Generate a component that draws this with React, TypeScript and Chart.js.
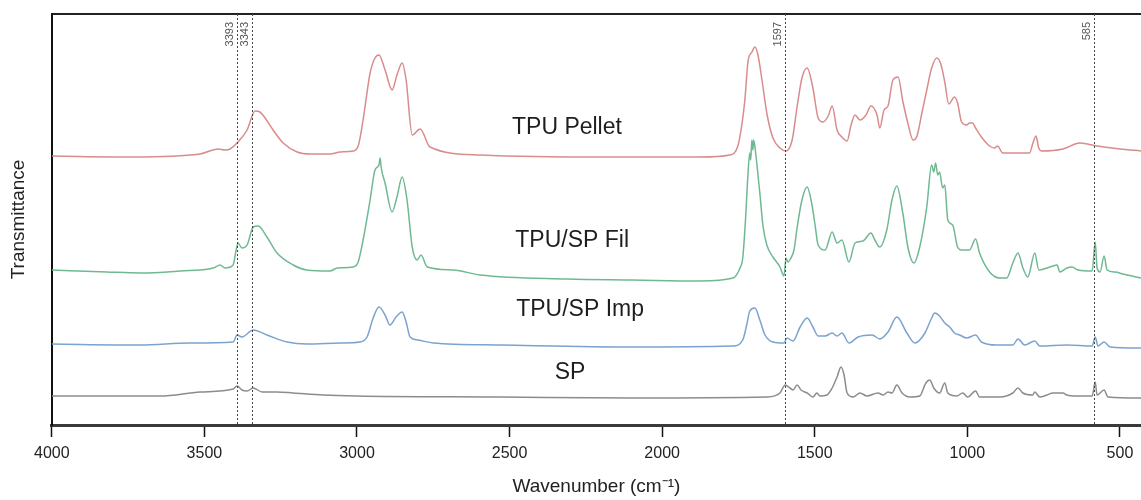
import React, { useEffect, useRef } from "react";
import { Chart, registerables } from "chart.js";

Chart.register(...registerables);

// FTIR spectra, stacked with vertical offsets: [wavenumber (cm-1), offset transmittance]
const tpuPellet: [number, number][] = [
  [4000, 269], [3734, 268], [3514, 271], [3455, 276], [3432, 275], [3416, 276], [3393, 282],
  [3360, 295], [3334, 314], [3318, 313], [3301, 307], [3275, 295], [3242, 282], [3196, 273],
  [3154, 271], [3088, 271], [3055, 273], [3013, 274], [2996, 279], [2980, 305], [2957, 352],
  [2941, 367], [2928, 370], [2908, 355], [2885, 335], [2869, 350], [2852, 362], [2839, 345],
  [2819, 290], [2793, 296], [2761, 278], [2597, 270], [2203, 268], [1876, 268], [1778, 270],
  [1752, 279], [1739, 300], [1729, 325], [1719, 363], [1706, 373], [1696, 378], [1686, 370],
  [1673, 345], [1656, 310], [1637, 287], [1614, 277], [1594, 274], [1574, 285], [1558, 318],
  [1542, 347], [1525, 357], [1506, 337], [1489, 307], [1473, 303], [1456, 309], [1443, 319],
  [1427, 295], [1411, 288], [1394, 284], [1381, 300], [1368, 310], [1352, 305], [1332, 310],
  [1316, 319], [1296, 310], [1287, 297], [1273, 315], [1260, 319], [1244, 345], [1227, 348],
  [1211, 323], [1195, 302], [1178, 285], [1165, 289], [1149, 312], [1133, 335], [1117, 357],
  [1100, 367], [1087, 361], [1074, 343], [1061, 321], [1042, 328], [1032, 322], [1019, 303],
  [1002, 300], [993, 302], [983, 302], [973, 297], [954, 288], [927, 279], [911, 277],
  [901, 279], [884, 272], [796, 272], [786, 281], [775, 289], [766, 277], [756, 274],
  [687, 276], [631, 282], [575, 279], [500, 276], [431, 274],
];

const tpuSpFil: [number, number][] = [
  [4000, 155], [3819, 153], [3710, 152], [3580, 154], [3471, 157], [3449, 160], [3432, 157],
  [3406, 160], [3396, 175], [3390, 182], [3377, 177], [3360, 180], [3340, 198], [3324, 199],
  [3295, 188], [3262, 172], [3209, 160], [3164, 155], [3088, 154], [3065, 157], [3013, 158],
  [2996, 163], [2980, 185], [2957, 225], [2941, 255], [2928, 260], [2924, 267], [2921, 258],
  [2908, 242], [2885, 213], [2869, 228], [2852, 248], [2836, 225], [2819, 178], [2803, 165],
  [2790, 170], [2770, 158], [2685, 155], [2597, 150], [2312, 146], [2096, 145], [1876, 144],
  [1768, 147], [1745, 157], [1736, 167], [1726, 210], [1719, 250], [1713, 272], [1710, 265],
  [1706, 285], [1703, 275], [1700, 285], [1693, 270], [1686, 250], [1680, 232], [1670, 200],
  [1657, 180], [1637, 168], [1614, 158], [1601, 149], [1594, 167], [1588, 163], [1578, 167],
  [1568, 175], [1558, 197], [1542, 225], [1525, 238], [1509, 220], [1499, 200], [1489, 180],
  [1466, 175], [1443, 193], [1427, 182], [1411, 185], [1388, 163], [1368, 182], [1342, 184],
  [1316, 192], [1303, 185], [1287, 178], [1264, 195], [1247, 225], [1231, 239], [1211, 211],
  [1195, 178], [1175, 162], [1156, 178], [1133, 218], [1117, 260], [1110, 253], [1104, 262],
  [1097, 250], [1091, 253], [1081, 237], [1074, 240], [1064, 205], [1048, 200], [1032, 178],
  [1019, 175], [993, 175], [973, 186], [960, 172], [927, 153], [894, 147], [871, 147],
  [851, 162], [834, 172], [818, 157], [802, 148], [779, 172], [766, 155], [739, 157],
  [706, 160], [697, 153], [674, 157], [657, 158], [637, 155], [591, 154], [581, 183],
  [575, 157], [565, 153], [552, 169], [542, 155], [516, 153], [490, 151], [431, 147],
];

const tpuSpImp: [number, number][] = [
  [4000, 81], [3710, 80], [3547, 82], [3406, 83], [3393, 90], [3377, 88], [3340, 95],
  [3295, 90], [3229, 83], [3164, 81], [3055, 82], [2990, 83], [2967, 88], [2947, 107],
  [2928, 118], [2908, 110], [2892, 100], [2872, 108], [2852, 113], [2839, 103], [2826, 88],
  [2800, 85], [2750, 82], [2531, 80], [2096, 78], [1768, 79], [1736, 85], [1723, 100],
  [1713, 114], [1696, 117], [1680, 105], [1663, 90], [1637, 83], [1601, 82], [1591, 87],
  [1571, 84], [1548, 98], [1525, 107], [1506, 98], [1489, 89], [1466, 89], [1443, 92],
  [1427, 89], [1411, 92], [1388, 82], [1358, 88], [1312, 90], [1287, 86], [1260, 93],
  [1231, 108], [1198, 92], [1172, 82], [1139, 92], [1117, 107], [1107, 112], [1091, 109],
  [1074, 102], [1058, 98], [1042, 92], [1025, 90], [1002, 87], [973, 90], [954, 83],
  [904, 80], [851, 80], [834, 86], [812, 80], [779, 84], [763, 79], [674, 80], [591, 79],
  [581, 88], [572, 79], [552, 83], [532, 78], [431, 77],
];

const sp: [number, number][] = [
  [4000, 29], [3645, 29], [3514, 33], [3406, 36], [3393, 39], [3377, 35], [3360, 34],
  [3340, 37], [3311, 33], [3262, 33], [3209, 32], [3111, 30], [3000, 29], [2531, 28],
  [2096, 27], [1657, 28], [1614, 32], [1597, 40], [1581, 37], [1571, 35], [1558, 40],
  [1545, 35], [1525, 32], [1506, 28], [1493, 32], [1483, 29], [1460, 30], [1443, 37],
  [1427, 48], [1414, 58], [1404, 50], [1394, 32], [1374, 28], [1352, 32], [1329, 29],
  [1293, 32], [1276, 30], [1260, 33], [1247, 32], [1231, 40], [1214, 32], [1188, 28],
  [1156, 29], [1136, 42], [1123, 45], [1110, 37], [1091, 32], [1074, 42], [1064, 32],
  [1035, 29], [1015, 32], [999, 28], [973, 34], [960, 28], [894, 28], [851, 32], [834, 37],
  [818, 32], [786, 30], [779, 33], [763, 28], [739, 30], [720, 32], [687, 32], [674, 30],
  [641, 29], [591, 29], [581, 43], [575, 30], [552, 35], [539, 28], [431, 27],
];

const seriesNames = ["TPU Pellet", "TPU/SP Fil", "TPU/SP Imp", "SP"];
const seriesColors = ["#D88C8C", "#6EB991", "#7BA3CF", "#8C8C8C"];
// where each spectrum's name is written: [wavenumber, offset transmittance]
const seriesLabelAt: [number, number][] = [[2312, 297], [2295, 184], [2269, 115], [2302, 52]];

// marked band positions (cm-1)
const markedBands = [3393, 3343, 1597, 585];

const xTickValues = [4000, 3500, 3000, 2500, 2000, 1500, 1000, 500];
const xMin = 431;
const xMax = 4000;

const FONT = "'Liberation Sans', Arial, sans-serif";

const annotations = {
  id: "spectrumAnnotations",
  afterDatasetsDraw(chart: any) {
    const { ctx, chartArea, scales } = chart;
    const xs = scales.x;
    const ys = scales.y;
    ctx.save();
    // dotted band markers with rotated labels
    ctx.strokeStyle = "#444";
    ctx.lineWidth = 1;
    ctx.setLineDash([2, 2]);
    markedBands.forEach((b) => {
      const px = Math.round(xs.getPixelForValue(b)) + 0.5;
      ctx.beginPath();
      ctx.moveTo(px, chartArea.top);
      ctx.lineTo(px, chartArea.bottom);
      ctx.stroke();
    });
    ctx.setLineDash([]);
    ctx.fillStyle = "#555";
    ctx.font = `11px ${FONT}`;
    ctx.textAlign = "right";
    ctx.textBaseline = "middle";
    markedBands.forEach((b) => {
      const px = xs.getPixelForValue(b);
      ctx.save();
      ctx.translate(px - 7, chartArea.top + 8);
      ctx.rotate(-Math.PI / 2);
      ctx.fillText(String(b), 0, 0);
      ctx.restore();
    });
    // spectrum names
    ctx.fillStyle = "#1E1E1E";
    ctx.font = `23px ${FONT}`;
    ctx.textAlign = "center";
    ctx.textBaseline = "middle";
    seriesNames.forEach((name, i) => {
      const [w, v] = seriesLabelAt[i];
      ctx.fillText(name, xs.getPixelForValue(w), ys.getPixelForValue(v));
    });
    ctx.restore();
  },
};

export default function App() {
  const canvasRef = useRef<HTMLCanvasElement | null>(null);

  useEffect(() => {
    document.body.style.margin = "0";
    const canvas = canvasRef.current;
    if (!canvas) return;
    const all = [tpuPellet, tpuSpFil, tpuSpImp, sp];
    const chart = new Chart(canvas, {
      type: "line",
      data: {
        datasets: all.map((pts, i) => ({
          label: seriesNames[i],
          data: pts.map(([x, y]) => ({ x, y })),
          borderColor: seriesColors[i],
          borderWidth: 1.5,
          pointRadius: 0,
          fill: false,
          cubicInterpolationMode: "monotone" as const,
          xAxisID: "x",
          yAxisID: "y",
        })),
      },
      options: {
        animation: false,
        responsive: false,
        maintainAspectRatio: false,
        layout: { padding: { top: 14, left: 0, right: 0, bottom: 0 } },
        plugins: { legend: { display: false }, tooltip: { enabled: false } },
        scales: {
          x: {
            type: "linear",
            position: "bottom",
            reverse: true,
            min: xMin,
            max: xMax,
            afterBuildTicks: (scale: any) => {
              scale.ticks = xTickValues.map((value) => ({ value }));
            },
            ticks: {
              autoSkip: false,
              maxRotation: 0,
              padding: 7,
              color: "#222",
              font: { family: FONT, size: 16 },
              callback: (v: any) => String(v),
            },
            grid: {
              display: true,
              drawOnChartArea: false,
              drawTicks: true,
              tickLength: 12,
              tickColor: "#111",
              tickWidth: 1.5,
              color: "#111",
            },
            border: { display: true, color: "#3A3A3A", width: 3 },
            title: {
              display: true,
              text: "Wavenumber (cm\u207B\u00B9)",
              color: "#222",
              font: { family: FONT, size: 19 },
              padding: { top: 5, bottom: 2 },
            },
          },
          xTop: {
            type: "linear",
            position: "top",
            reverse: true,
            min: xMin,
            max: xMax,
            ticks: { display: false },
            grid: { display: true, drawOnChartArea: false, drawTicks: false },
            border: { display: true, color: "#222", width: 2 },
          },
          y: {
            type: "linear",
            position: "left",
            min: 0,
            max: 411,
            ticks: { display: false },
            grid: { display: true, drawOnChartArea: false, drawTicks: false },
            border: { display: true, color: "#111", width: 2 },
            title: {
              display: true,
              text: "Transmittance",
              color: "#222",
              font: { family: FONT, size: 19 },
              padding: { top: 7, bottom: 22 },
            },
          },
        },
      },
      plugins: [annotations],
    });
    return () => chart.destroy();
  }, []);

  return (
    <div style={{ width: 1141, height: 500, background: "#fff" }}>
      <canvas ref={canvasRef} width={1141} height={500} style={{ display: "block" }} />
    </div>
  );
}
